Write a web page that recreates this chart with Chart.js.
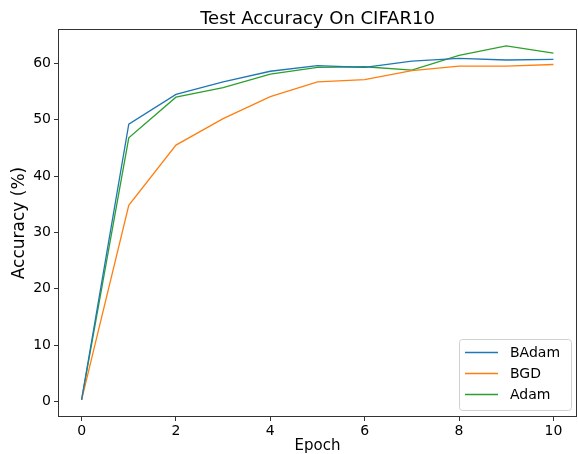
<!DOCTYPE html>
<html lang="en">
<head>
    <meta charset="UTF-8">
    <title>Test Accuracy On CIFAR10</title>
    <script src="https://cdn.jsdelivr.net/npm/chart.js"></script>
    <style>
        html, body { margin: 0; padding: 0; background: #fff; }
        canvas { display: block; }
    </style>
</head>
<body>
    <canvas id="accChart" width="578" height="454"></canvas>

    <script>
        // Datos
        const epochs = [0, 1, 2, 3, 4, 5, 6, 7, 8, 9, 10];
        const badam = [0.3, 49.2, 54.5, 56.7, 58.6, 59.6, 59.3, 60.4, 60.9, 60.6, 60.7];
        const bgd = [0.3, 34.8, 45.5, 50.2, 54.1, 56.7, 57.1, 58.7, 59.5, 59.5, 59.8];
        const adam = [0.3, 46.8, 54.0, 55.7, 58.1, 59.3, 59.4, 58.8, 61.4, 63.1, 61.8];
        const xTicks = [0, 2, 4, 6, 8, 10];
        const yTicks = [0, 10, 20, 30, 40, 50, 60];

        const FONT = "'DejaVu Sans', sans-serif";

        function toPoints(values) {
            return epochs.map((e, i) => ({ x: e, y: values[i] }));
        }

        // Titulo centrado sobre el area del grafico
        const titlePlugin = {
            id: 'plotTitle',
            afterDraw(chart) {
                const ctx = chart.ctx;
                const area = chart.chartArea;
                ctx.save();
                ctx.font = '18px ' + FONT;
                ctx.fillStyle = '#000';
                ctx.textAlign = 'center';
                ctx.textBaseline = 'alphabetic';
                ctx.fillText('Test Accuracy On CIFAR10', (area.left + area.right) / 2, 24);
                ctx.restore();
            }
        };

        // Marco completo alrededor del area (como los ejes de matplotlib)
        const framePlugin = {
            id: 'frame',
            afterDraw(chart) {
                const ctx = chart.ctx;
                const a = chart.chartArea;
                ctx.save();
                ctx.strokeStyle = '#333';
                ctx.lineWidth = 1;
                ctx.strokeRect(a.left + 0.5, a.top + 0.5, a.right - a.left - 1, a.bottom - a.top - 1);
                ctx.restore();
            }
        };

        // Leyenda abajo a la derecha dentro del grafico
        const legendPlugin = {
            id: 'innerLegend',
            afterDraw(chart) {
                const ctx = chart.ctx;
                const a = chart.chartArea;
                const w = 112, h = 71;
                const x0 = a.right - 6 - w, y0 = a.bottom - 7 - h;
                ctx.save();
                ctx.beginPath();
                ctx.roundRect(x0 + 0.5, y0 + 0.5, w, h, 3);
                ctx.fillStyle = 'rgba(255,255,255,0.8)';
                ctx.fill();
                ctx.strokeStyle = '#d0d0d0';
                ctx.lineWidth = 1;
                ctx.stroke();
                ctx.font = '14px ' + FONT;
                ctx.textBaseline = 'middle';
                ctx.textAlign = 'left';
                chart.data.datasets.forEach((ds, i) => {
                    const y = y0 + 13 + i * 21;
                    ctx.strokeStyle = ds.borderColor;
                    ctx.lineWidth = 1.3;
                    ctx.beginPath();
                    ctx.moveTo(x0 + 6, y + 0.5);
                    ctx.lineTo(x0 + 39, y + 0.5);
                    ctx.stroke();
                    ctx.fillStyle = '#000';
                    ctx.fillText(ds.label, x0 + 51, y + 1);
                });
                ctx.restore();
            }
        };

        const ctx = document.getElementById('accChart').getContext('2d');
        const accChart = new Chart(ctx, {
            type: 'line',
            data: {
                datasets: [
                    { label: 'BAdam', data: toPoints(badam), borderColor: '#1f77b4' },
                    { label: 'BGD', data: toPoints(bgd), borderColor: '#ff7f0e' },
                    { label: 'Adam', data: toPoints(adam), borderColor: '#2ca02c' }
                ]
            },
            options: {
                responsive: false,
                animation: false,
                layout: { padding: { top: 29, right: 1, left: 0, bottom: 0 } },
                elements: {
                    line: { borderWidth: 1.3, tension: 0, fill: false },
                    point: { radius: 0, hoverRadius: 0 }
                },
                plugins: {
                    legend: { display: false },
                    title: { display: false },
                    tooltip: { enabled: false }
                },
                scales: {
                    x: {
                        type: 'linear',
                        min: -0.5,
                        max: 10.5,
                        afterBuildTicks: axis => { axis.ticks = xTicks.map(v => ({ value: v })); },
                        afterFit: axis => { axis.height = 37; },
                        grid: { drawOnChartArea: false, drawTicks: true, tickLength: 4, color: '#333' },
                        border: { display: false },
                        ticks: { color: '#000', padding: 2, font: { family: FONT, size: 14 }, maxRotation: 0 },
                        title: { display: true, text: 'Epoch', color: '#000', font: { family: FONT, size: 15, lineHeight: 1.0 }, padding: { top: 0, bottom: 0 } }
                    },
                    y: {
                        type: 'linear',
                        min: -2.75,
                        max: 66.1,
                        afterBuildTicks: axis => { axis.ticks = yTicks.map(v => ({ value: v })); },
                        afterFit: axis => { axis.width = 58; },
                        grid: { drawOnChartArea: false, drawTicks: true, tickLength: 4, color: '#333' },
                        border: { display: false },
                        ticks: { color: '#000', padding: 3, font: { family: FONT, size: 14 } },
                        title: { display: true, text: 'Accuracy (%)', color: '#000', font: { family: FONT, size: 17 }, padding: { top: 9.5, bottom: 0 } }
                    }
                }
            },
            plugins: [titlePlugin, framePlugin, legendPlugin]
        });
    </script>
</body>
</html>
